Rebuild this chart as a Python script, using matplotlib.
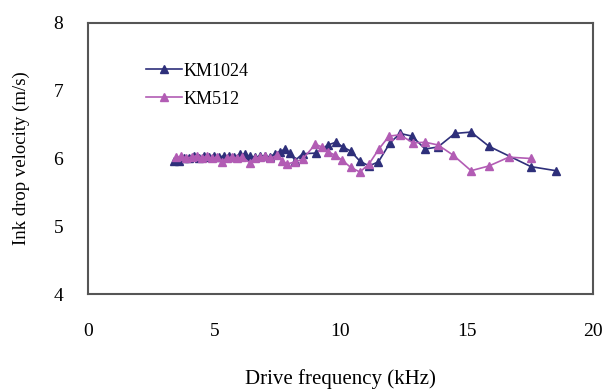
import matplotlib
matplotlib.use('Agg')
import matplotlib.pyplot as plt

# KM1024 data (drive frequency kHz, velocity m/s)
km1024_f = [3.4, 3.6, 3.8, 4.0, 4.2, 4.4, 4.6, 4.8, 5.0, 5.2, 5.4, 5.6, 5.8,
            6.0, 6.2, 6.4, 6.6, 6.8, 7.0, 7.2, 7.4, 7.6, 7.8, 8.0, 8.2, 8.5,
            9.03, 9.5, 9.82, 10.1, 10.4, 10.77, 11.13, 11.5, 11.96, 12.36,
            12.83, 13.35, 13.86, 14.53, 15.17, 15.88, 17.54, 18.53]
km1024_v = [5.97, 5.97, 6.0, 6.01, 6.03, 6.0, 6.04, 6.02, 6.04, 6.02, 6.04, 6.03, 6.02,
            6.06, 6.07, 6.03, 6.02, 6.03, 6.04, 6.02, 6.07, 6.1, 6.14, 6.08, 5.97, 6.07,
            6.08, 6.2, 6.24, 6.17, 6.11, 5.96, 5.89, 5.95, 6.23, 6.37,
            6.33, 6.14, 6.17, 6.37, 6.39, 6.18, 5.88, 5.82]

# KM512 data
km512_f = [3.5, 3.7, 3.9, 4.1, 4.3, 4.5, 4.7, 4.9, 5.1, 5.3, 5.5, 5.7, 5.9,
           6.1, 6.4, 6.6, 6.8, 7.0, 7.2, 7.5, 7.7, 7.9, 8.2, 8.5,
           9.0, 9.27, 9.5, 9.78, 10.05, 10.4, 10.77, 11.13, 11.52, 11.92,
           12.36, 12.87, 13.35, 13.86, 14.46, 15.17, 15.88, 16.67, 17.54]
km512_v = [6.02, 6.03, 6.01, 6.02, 6.04, 6.01, 6.03, 6.0, 6.02, 5.95, 6.01, 6.02, 6.0,
           6.02, 5.94, 6.0, 6.02, 6.03, 6.0, 6.05, 5.96, 5.92, 5.95, 5.99,
           6.21, 6.17, 6.1, 6.05, 5.98, 5.87, 5.8, 5.92, 6.14, 6.33,
           6.35, 6.23, 6.24, 6.2, 6.05, 5.82, 5.89, 6.02, 6.0]

plt.rcParams['font.family'] = ['Liberation Serif', 'DejaVu Serif']

fig = plt.figure(figsize=(6.04, 3.89), dpi=100)
ax = fig.add_axes([0.1457, 0.2442, 0.8361, 0.6967])

ax.plot(km1024_f, km1024_v, color='#2E2F7A', marker='^', markersize=5.5,
        linewidth=1.2, label='KM1024')
ax.plot(km512_f, km512_v, color='#B25CB4', marker='^', markersize=5.5,
        linewidth=1.2, label='KM512')

ax.set_xlim(0, 20)
ax.set_ylim(4, 8)
ax.set_xticks([0, 5, 10, 15, 20])
ax.set_yticks([4, 5, 6, 7, 8])
ax.tick_params(axis='x', length=0, pad=21, labelsize=14)
ax.tick_params(axis='y', length=0, pad=18, labelsize=14)

for s in ax.spines.values():
    s.set_color('#555555')
    s.set_linewidth(1.5)

ax.set_xlabel('Drive frequency (kHz)', fontsize=15, labelpad=21)
ax.set_ylabel('Ink drop velocity (m/s)', fontsize=13.5, labelpad=17)

ax.legend(loc='upper left', bbox_to_anchor=(0.1, 0.88), frameon=False,
          fontsize=13, handlelength=2.0, handletextpad=0.1, labelspacing=0.6,
          borderaxespad=0)

fig.savefig('out.png', dpi=100)
